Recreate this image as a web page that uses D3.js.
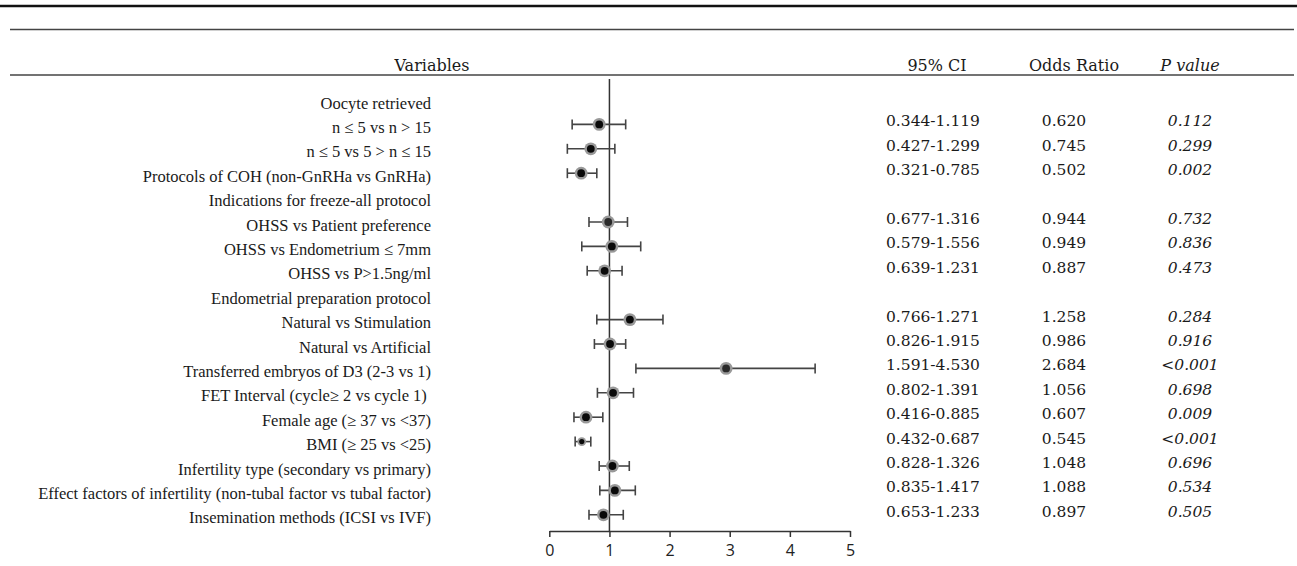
<!DOCTYPE html>
<html>
<head>
<meta charset="utf-8">
<script src="https://cdn.jsdelivr.net/npm/d3@7"></script>
<style>
  body { margin: 0; background: #fff; }
  svg { display: block; }
</style>
</head>
<body>
<div id="chart"></div>
<script>
// 1: DATA
const variables = [
    "Oocyte retrieved",
    "n \u2264 5 vs n > 15",
    "n \u2264 5 vs 5 > n \u2264 15",
    "Protocols of COH (non-GnRHa vs GnRHa)",
    "Indications for freeze-all protocol",
    "OHSS vs Patient preference",
    "OHSS vs Endometrium \u2264 7mm",
    "OHSS vs P>1.5ng/ml",
    "Endometrial preparation protocol",
    "Natural vs Stimulation",
    "Natural vs Artificial",
    "Transferred embryos of D3 (2-3 vs 1)",
    "FET Interval (cycle\u2265 2 vs cycle 1) ",
    "Female age (\u2265 37 vs <37)",
    "BMI (\u2265 25 vs <25)",
    "Infertility type (secondary vs primary)",
    "Effect factors of infertility (non-tubal factor vs tubal factor)",
    "Insemination methods (ICSI vs IVF)"
];

// plotted values (null = group header row)
const orPlot = [null, 0.83, 0.69, 0.53, null, 0.98, 1.04, 0.92, null, 1.34, 1.01, 2.94, 1.06, 0.61, 0.54, 1.05, 1.09, 0.90];
const loPlot = [null, 0.38, 0.30, 0.30, null, 0.66, 0.54, 0.63, null, 0.79, 0.75, 1.44, 0.80, 0.41, 0.43, 0.83, 0.84, 0.66];
const hiPlot = [null, 1.27, 1.09, 0.79, null, 1.30, 1.52, 1.21, null, 1.89, 1.27, 4.42, 1.40, 0.89, 0.69, 1.33, 1.43, 1.23];

// table columns
const ciText = ["", "0.344-1.119", "0.427-1.299", "0.321-0.785", "", "0.677-1.316", "0.579-1.556", "0.639-1.231", "",
    "0.766-1.271", "0.826-1.915", "1.591-4.530", "0.802-1.391", "0.416-0.885", "0.432-0.687", "0.828-1.326", "0.835-1.417", "0.653-1.233"];
const orText = ["", "0.620", "0.745", "0.502", "", "0.944", "0.949", "0.887", "",
    "1.258", "0.986", "2.684", "1.056", "0.607", "0.545", "1.048", "1.088", "0.897"];
const pText = ["", "0.112", "0.299", "0.002", "", "0.732", "0.836", "0.473", "",
    "0.284", "0.916", "<0.001", "0.698", "0.009", "<0.001", "0.696", "0.534", "0.505"];

const headers = ["Variables", "95% CI", "Odds Ratio", "P value"];
const xTicks = [0, 1, 2, 3, 4, 5];

// 2: SETUP
const W = 1297, H = 566;
const svg = d3.select("#chart").append("svg")
    .attr("width", W)
    .attr("height", H);

const labelFont = "'Liberation Serif', 'Times New Roman', serif";
const tableFont = "'DejaVu Serif', serif";

// 3: SCALES
const x = d3.scaleLinear().domain([0, 5]).range([549.3, 850]);
const y = d3.scalePoint().domain(d3.range(variables.length)).range([100, 514.8]);
const axisY = 531;

// 4: TABLE RULES
svg.append("line")
    .attr("x1", 0).attr("x2", W)
    .attr("y1", 6).attr("y2", 6)
    .attr("stroke", "#111").attr("stroke-width", 2.5);

[29.5, 75].forEach(ly => {
    svg.append("line")
        .attr("x1", 10).attr("x2", 1294)
        .attr("y1", ly).attr("y2", ly)
        .attr("stroke", "#444").attr("stroke-width", 1.6);
});

// 5: HEADERS
const headerX = [432, 937, 1074, 1190];
svg.selectAll(".header")
    .data(headers)
    .enter()
    .append("text")
    .attr("class", "header")
    .attr("x", (d, i) => headerX[i])
    .attr("y", 65)
    .attr("dominant-baseline", "central")
    .attr("text-anchor", "middle")
    .style("font-family", tableFont)
    .style("font-size", "16px")
    .style("fill", "#1a1a1a")
    .style("font-style", d => d === "P value" ? "italic" : "normal")
    .text(d => d);

// 6: ROW LABELS
svg.selectAll(".label")
    .data(variables)
    .enter()
    .append("text")
    .attr("class", "label")
    .attr("x", 431)
    .attr("y", (d, i) => y(i) + 3)
    .attr("dominant-baseline", "central")
    .attr("text-anchor", "end")
    .style("font-family", labelFont)
    .style("font-size", "16.5px")
    .style("fill", "#1a1a1a")
    .style("white-space", "pre")
    .text(d => d);

// 7: FOREST PLOT
// reference line at OR = 1
svg.append("line")
    .attr("x1", x(1)).attr("x2", x(1))
    .attr("y1", 79).attr("y2", axisY)
    .attr("stroke", "#333").attr("stroke-width", 1.5);

// x axis
const axis = svg.append("g")
    .attr("transform", `translate(0,${axisY})`)
    .call(d3.axisBottom(x).tickValues(xTicks).tickFormat(d3.format("d")).tickSize(6).tickSizeOuter(0));
axis.select(".domain").attr("stroke", "#333").attr("stroke-width", 1.5);
axis.selectAll(".tick line").attr("stroke", "#333").attr("stroke-width", 1.5);
axis.selectAll(".tick text")
    .attr("y", 14)
    .style("font-family", "'Open Sans', sans-serif")
    .style("font-size", "16px")
    .style("fill", "#222");

const rows = d3.range(variables.length).filter(i => orPlot[i] !== null);

// error bars
const bars = svg.selectAll(".ci")
    .data(rows)
    .enter()
    .append("g")
    .attr("class", "ci")
    .attr("stroke", "#444")
    .attr("stroke-width", 1.6);

bars.append("line")
    .attr("x1", i => x(loPlot[i])).attr("x2", i => x(hiPlot[i]))
    .attr("y1", i => y(i)).attr("y2", i => y(i));
bars.append("line")
    .attr("x1", i => x(loPlot[i])).attr("x2", i => x(loPlot[i]))
    .attr("y1", i => y(i) - 5).attr("y2", i => y(i) + 5);
bars.append("line")
    .attr("x1", i => x(hiPlot[i])).attr("x2", i => x(hiPlot[i]))
    .attr("y1", i => y(i) - 5).attr("y2", i => y(i) + 5);

// points: gray halo + dark centre (BMI drawn smaller)
const isSmall = i => variables[i].startsWith("BMI");
svg.selectAll(".halo")
    .data(rows)
    .enter()
    .append("circle")
    .attr("class", "halo")
    .attr("cx", i => x(orPlot[i]))
    .attr("cy", i => y(i))
    .attr("r", i => isSmall(i) ? 4.4 : 6.4)
    .attr("fill", "#999");

svg.selectAll(".dot")
    .data(rows)
    .enter()
    .append("circle")
    .attr("class", "dot")
    .attr("cx", i => x(orPlot[i]))
    .attr("cy", i => y(i))
    .attr("r", i => isSmall(i) ? 2.6 : 3.9)
    .attr("fill", i => (orPlot[i] > 2 || i === 5) ? "#2a2a2a" : "#0a0a0a");

// 8: TABLE VALUES
const cols = [
    { values: ciText, x: 933, italic: false },
    { values: orText, x: 1064, italic: false },
    { values: pText, x: 1190, italic: true }
];
cols.forEach(col => {
    svg.selectAll(null)
        .data(col.values.map((v, i) => ({ v, i })).filter(d => d.v !== ""))
        .enter()
        .append("text")
        .attr("x", col.x)
        .attr("y", d => y(d.i) - 3)
        .attr("dominant-baseline", "central")
        .attr("text-anchor", "middle")
        .style("font-family", tableFont)
        .style("font-size", "15.5px")
        .style("font-style", col.italic ? "italic" : "normal")
        .style("fill", "#1a1a1a")
        .text(d => d.v);
});
</script>
</body>
</html>
